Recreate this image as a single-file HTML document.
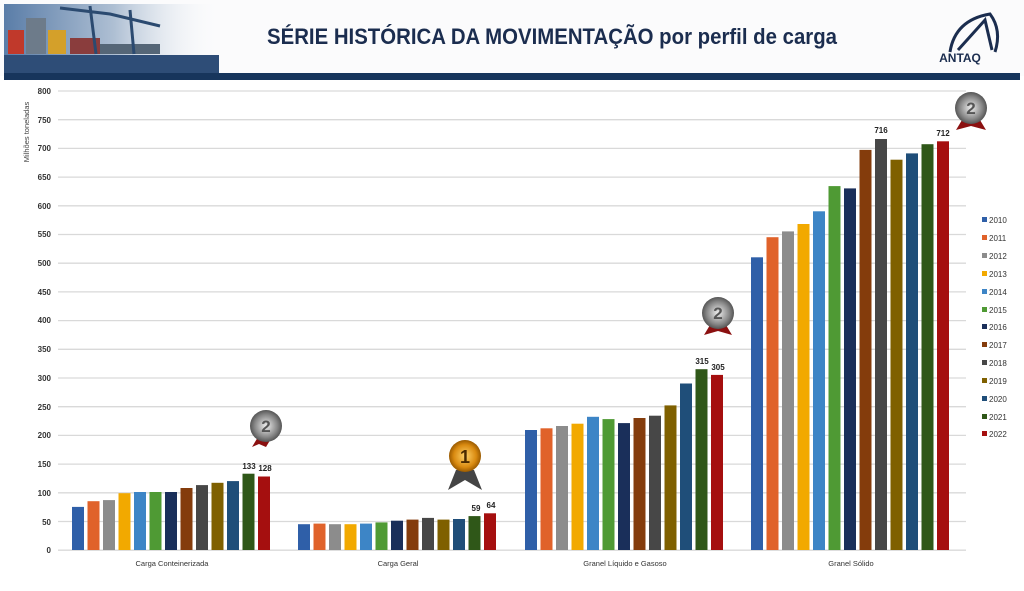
<!DOCTYPE html>
<html><head><meta charset="utf-8"><style>
html,body{margin:0;padding:0;background:#fff;width:1024px;height:591px;overflow:hidden;font-family:"Liberation Sans",sans-serif}
</style></head><body>
<svg width="1024" height="591" viewBox="0 0 1024 591" xmlns="http://www.w3.org/2000/svg" font-family="Liberation Sans, sans-serif">
<defs>
<linearGradient id="hdr" x1="0" x2="1"><stop offset="0" stop-color="#5a7da8"/><stop offset="0.5" stop-color="#aebfd3"/><stop offset="1" stop-color="#fff" stop-opacity="0"/></linearGradient>
<radialGradient id="silver"><stop offset="0" stop-color="#eee"/><stop offset="0.7" stop-color="#888"/><stop offset="1" stop-color="#555"/></radialGradient>
<radialGradient id="gold"><stop offset="0" stop-color="#ffd36b"/><stop offset="0.7" stop-color="#d98a10"/><stop offset="1" stop-color="#9a5a00"/></radialGradient>
</defs>
<!-- header -->
<rect x="0" y="0" width="1024" height="76" fill="#fbfbfc"/>
<rect x="4" y="4" width="220" height="70" fill="url(#hdr)"/>
<rect x="8" y="30" width="16" height="24" fill="#c0392b"/><rect x="26" y="18" width="20" height="36" fill="#6d7b8a"/><rect x="48" y="30" width="18" height="24" fill="#d4a02a"/><rect x="70" y="38" width="30" height="16" fill="#8a3d3d"/><rect x="100" y="44" width="60" height="10" fill="#556677"/>
<path d="M60 8 L110 14 L160 26 M90 6 L96 54 M130 10 L134 54" stroke="#2b4a70" stroke-width="3" fill="none"/>
<rect x="4" y="55" width="215" height="19" fill="#2e4d77"/>
<rect x="4" y="73" width="1016" height="7" fill="#17355c"/>
<text x="552" y="44" text-anchor="middle" font-size="22" font-weight="bold" fill="#1b2d4f" textLength="570" lengthAdjust="spacingAndGlyphs">SÉRIE HISTÓRICA DA MOVIMENTAÇÃO por perfil de carga</text>
<path d="M950 52 Q955 20 990 14 Q1002 30 995 52 M958 50 L985 20 L992 50" stroke="#1b2d4f" stroke-width="3" fill="none"/>
<text x="960" y="62" text-anchor="middle" font-size="12" font-weight="bold" fill="#1b2d4f">ANTAQ</text>
<!-- grid -->
<g stroke="#d9d9d9" stroke-width="1.3">
<line x1="58" x2="966" y1="91.0" y2="91.0"/><line x1="58" x2="966" y1="119.7" y2="119.7"/><line x1="58" x2="966" y1="148.4" y2="148.4"/><line x1="58" x2="966" y1="177.1" y2="177.1"/><line x1="58" x2="966" y1="205.8" y2="205.8"/><line x1="58" x2="966" y1="234.5" y2="234.5"/><line x1="58" x2="966" y1="263.2" y2="263.2"/><line x1="58" x2="966" y1="291.9" y2="291.9"/><line x1="58" x2="966" y1="320.6" y2="320.6"/><line x1="58" x2="966" y1="349.3" y2="349.3"/><line x1="58" x2="966" y1="378.0" y2="378.0"/><line x1="58" x2="966" y1="406.7" y2="406.7"/><line x1="58" x2="966" y1="435.4" y2="435.4"/><line x1="58" x2="966" y1="464.1" y2="464.1"/><line x1="58" x2="966" y1="492.8" y2="492.8"/><line x1="58" x2="966" y1="521.5" y2="521.5"/><line x1="58" x2="966" y1="550.2" y2="550.2"/>
</g>
<g font-size="8" fill="#333" text-anchor="end" font-weight="bold">
<text x="51" y="94">800</text><text x="51" y="123">750</text><text x="51" y="151">700</text><text x="51" y="180">650</text><text x="51" y="209">600</text><text x="51" y="237">550</text><text x="51" y="266">500</text><text x="51" y="295">450</text><text x="51" y="323">400</text><text x="51" y="352">350</text><text x="51" y="381">300</text><text x="51" y="410">250</text><text x="51" y="438">200</text><text x="51" y="467">150</text><text x="51" y="496">100</text><text x="51" y="525">50</text><text x="51" y="553">0</text>
</g>
<text transform="translate(29,132) rotate(-90)" font-size="7.5" fill="#444" text-anchor="middle">Milhões toneladas</text>
<!-- bars -->
<g id="bars">
<g transform="translate(72,0)">
<rect x="0" y="506.9" width="12" height="43.1" fill="#2f5fa8"/><rect x="15.5" y="501.2" width="12" height="48.8" fill="#e0622a"/><rect x="31" y="500.1" width="12" height="49.9" fill="#8c8c8c"/><rect x="46.5" y="493.2" width="12" height="56.8" fill="#f2a900"/><rect x="62" y="492" width="12" height="58" fill="#3d85c6"/><rect x="77.5" y="492" width="12" height="58" fill="#4f9a34"/><rect x="93" y="492" width="12" height="58" fill="#1a2f5a"/><rect x="108.5" y="488" width="12" height="62" fill="#843c0c"/><rect x="124" y="485.1" width="12" height="64.9" fill="#474747"/><rect x="139.5" y="482.8" width="12" height="67.2" fill="#7f6000"/><rect x="155" y="481.1" width="12" height="68.9" fill="#1f4e79"/><rect x="170.5" y="473.7" width="12" height="76.3" fill="#2f5718"/><rect x="186" y="476.5" width="12" height="73.5" fill="#a50f0f"/>
</g>
<g transform="translate(298,0)">
<rect x="0" y="524.2" width="12" height="25.8" fill="#2f5fa8"/><rect x="15.5" y="523.6" width="12" height="26.4" fill="#e0622a"/><rect x="31" y="524.2" width="12" height="25.8" fill="#8c8c8c"/><rect x="46.5" y="524.2" width="12" height="25.8" fill="#f2a900"/><rect x="62" y="523.6" width="12" height="26.4" fill="#3d85c6"/><rect x="77.5" y="522.4" width="12" height="27.6" fill="#4f9a34"/><rect x="93" y="520.7" width="12" height="29.3" fill="#1a2f5a"/><rect x="108.5" y="519.6" width="12" height="30.4" fill="#843c0c"/><rect x="124" y="517.9" width="12" height="32.1" fill="#474747"/><rect x="139.5" y="519.6" width="12" height="30.4" fill="#7f6000"/><rect x="155" y="519" width="12" height="31" fill="#1f4e79"/><rect x="170.5" y="516.1" width="12" height="33.9" fill="#2f5718"/><rect x="186" y="513.3" width="12" height="36.7" fill="#a50f0f"/>
</g>
<g transform="translate(525,0)">
<rect x="0" y="430" width="12" height="120" fill="#2f5fa8"/><rect x="15.5" y="428.3" width="12" height="121.7" fill="#e0622a"/><rect x="31" y="426" width="12" height="124" fill="#8c8c8c"/><rect x="46.5" y="423.7" width="12" height="126.3" fill="#f2a900"/><rect x="62" y="416.8" width="12" height="133.2" fill="#3d85c6"/><rect x="77.5" y="419.1" width="12" height="130.9" fill="#4f9a34"/><rect x="93" y="423.1" width="12" height="126.9" fill="#1a2f5a"/><rect x="108.5" y="418" width="12" height="132" fill="#843c0c"/><rect x="124" y="415.7" width="12" height="134.3" fill="#474747"/><rect x="139.5" y="405.4" width="12" height="144.6" fill="#7f6000"/><rect x="155" y="383.5" width="12" height="166.5" fill="#1f4e79"/><rect x="170.5" y="369.2" width="12" height="180.8" fill="#2f5718"/><rect x="186" y="374.9" width="12" height="175.1" fill="#a50f0f"/>
</g>
<g transform="translate(751,0)">
<rect x="0" y="257.3" width="12" height="292.7" fill="#2f5fa8"/><rect x="15.5" y="237.2" width="12" height="312.8" fill="#e0622a"/><rect x="31" y="231.4" width="12" height="318.6" fill="#8c8c8c"/><rect x="46.5" y="224" width="12" height="326" fill="#f2a900"/><rect x="62" y="211.3" width="12" height="338.7" fill="#3d85c6"/><rect x="77.5" y="186.1" width="12" height="363.9" fill="#4f9a34"/><rect x="93" y="188.4" width="12" height="361.6" fill="#1a2f5a"/><rect x="108.5" y="149.9" width="12" height="400.1" fill="#843c0c"/><rect x="124" y="139" width="12" height="411" fill="#474747"/><rect x="139.5" y="159.7" width="12" height="390.3" fill="#7f6000"/><rect x="155" y="153.4" width="12" height="396.6" fill="#1f4e79"/><rect x="170.5" y="144.2" width="12" height="405.8" fill="#2f5718"/><rect x="186" y="141.3" width="12" height="408.7" fill="#a50f0f"/>
</g>
</g>
<!-- value labels -->
<g font-size="8" font-weight="bold" fill="#222" text-anchor="middle">
<text x="249" y="469">133</text><text x="265" y="471">128</text>
<text x="476" y="511">59</text><text x="491" y="508">64</text>
<text x="702" y="364">315</text><text x="718" y="370">305</text>
<text x="881" y="133">716</text><text x="943" y="136">712</text>
</g>
<!-- medals -->
<g>
<path d="M258 437 L252 447 L259 444 L266 447 L272 437 Z" fill="#8b1010"/><circle cx="266" cy="426" r="16" fill="url(#silver)"/><text x="266" y="432" text-anchor="middle" font-size="17" font-weight="bold" fill="#555">2</text>
<path d="M456 470 L448 490 L465 480 L482 490 L474 470 Z" fill="#444"/><circle cx="465" cy="456" r="16" fill="url(#gold)"/><text x="465" y="463" text-anchor="middle" font-size="18" font-weight="bold" fill="#4a2a00">1</text>
<path d="M710 325 L704 335 L718 331 L732 335 L726 325 Z" fill="#8b1010"/><circle cx="718" cy="313" r="16" fill="url(#silver)"/><text x="718" y="319" text-anchor="middle" font-size="17" font-weight="bold" fill="#555">2</text>
<path d="M962 120 L956 130 L971 126 L986 130 L980 120 Z" fill="#8b1010"/><circle cx="971" cy="108" r="16" fill="url(#silver)"/><text x="971" y="114" text-anchor="middle" font-size="17" font-weight="bold" fill="#555">2</text>
</g>
<!-- category labels -->
<g font-size="7.5" fill="#333" text-anchor="middle">
<text x="172" y="566">Carga Conteinerizada</text><text x="398" y="566">Carga Geral</text><text x="625" y="566">Granel Líquido e Gasoso</text><text x="851" y="566">Granel Sólido</text>
</g>
<!-- legend -->
<g font-size="8" fill="#333">
<rect x="982" y="217" width="5" height="5" fill="#2f5fa8"/><text x="989" y="223">2010</text>
<rect x="982" y="235" width="5" height="5" fill="#e0622a"/><text x="989" y="241">2011</text>
<rect x="982" y="253" width="5" height="5" fill="#8c8c8c"/><text x="989" y="259">2012</text>
<rect x="982" y="271" width="5" height="5" fill="#f2a900"/><text x="989" y="277">2013</text>
<rect x="982" y="289" width="5" height="5" fill="#3d85c6"/><text x="989" y="295">2014</text>
<rect x="982" y="307" width="5" height="5" fill="#4f9a34"/><text x="989" y="313">2015</text>
<rect x="982" y="324" width="5" height="5" fill="#1a2f5a"/><text x="989" y="330">2016</text>
<rect x="982" y="342" width="5" height="5" fill="#843c0c"/><text x="989" y="348">2017</text>
<rect x="982" y="360" width="5" height="5" fill="#474747"/><text x="989" y="366">2018</text>
<rect x="982" y="378" width="5" height="5" fill="#7f6000"/><text x="989" y="384">2019</text>
<rect x="982" y="396" width="5" height="5" fill="#1f4e79"/><text x="989" y="402">2020</text>
<rect x="982" y="414" width="5" height="5" fill="#2f5718"/><text x="989" y="420">2021</text>
<rect x="982" y="431" width="5" height="5" fill="#a50f0f"/><text x="989" y="437">2022</text>
</g>
</svg>
</body></html>
